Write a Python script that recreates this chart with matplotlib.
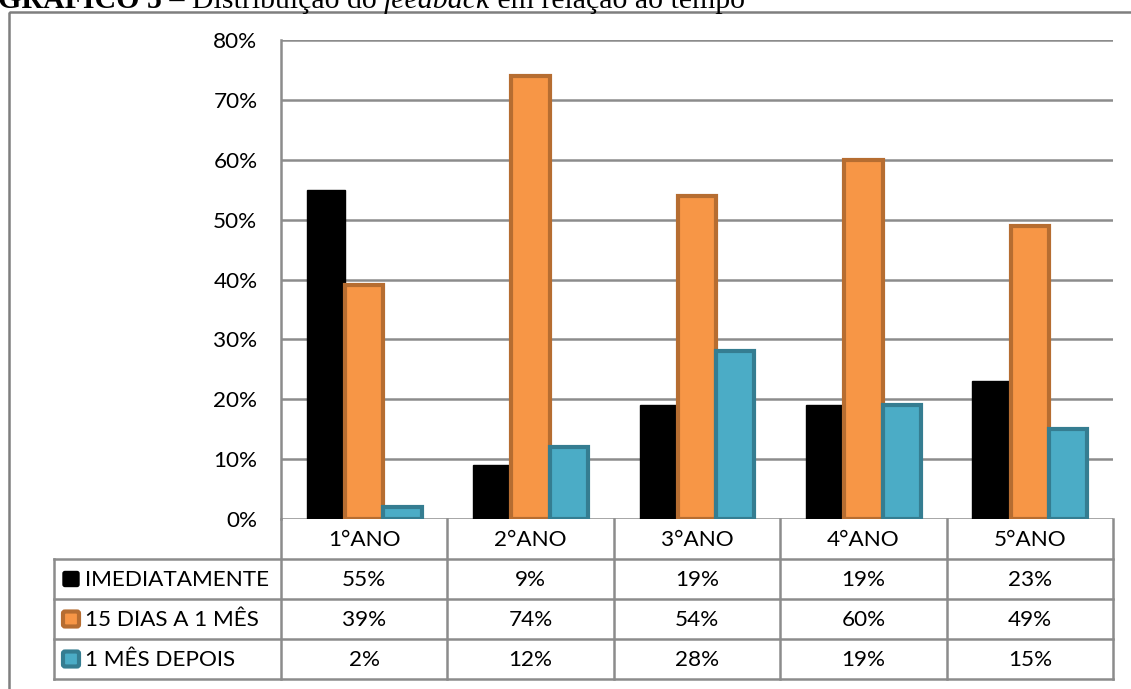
import matplotlib
matplotlib.use("Agg")
import matplotlib.pyplot as plt
from matplotlib.patches import Rectangle, FancyBboxPatch
import numpy as np

W, H = 1131, 689

categories = ["1°ANO", "2°ANO", "3°ANO", "4°ANO", "5°ANO"]
series_names = ["IMEDIATAMENTE", "15 DIAS A 1 MÊS", "1 MÊS DEPOIS"]
imediatamente = [55, 9, 19, 19, 23]
quinze_dias = [39, 74, 54, 60, 49]
um_mes = [2, 12, 28, 19, 15]
series_values = [imediatamente, quinze_dias, um_mes]

fills = ["#000000", "#F79646", "#4BACC6"]
edges = ["#000000", "#B66D31", "#357D91"]
grid_col = "#8C8C8C"
font = "Lato"
fs = 16.2

fig = plt.figure(figsize=(W / 100, H / 100), dpi=100)

# plot area in pixel coordinates
px_left, px_right, px_top, px_bottom = 281, 1113, 40, 519
ax = fig.add_axes([px_left / W, 1 - px_bottom / H,
                   (px_right - px_left) / W, (px_bottom - px_top) / H])

x = np.arange(len(categories))
bw = 0.23
for i, vals in enumerate(series_values):
    lw = 1 if i == 0 else 3
    ax.bar(x + (i - 1) * bw, np.array(vals) / 100, width=bw,
           color=fills[i], edgecolor=edges[i], linewidth=lw, zorder=3)

ax.set_xlim(-0.5, len(categories) - 0.5)
ax.set_ylim(0, 0.8)
yt = np.arange(0, 0.81, 0.1)
ax.set_yticks(yt)
ax.set_yticklabels([f"{int(round(v * 100))}%" for v in yt],
                   fontfamily=font, fontsize=fs)
ax.set_xticks([])
ax.yaxis.grid(True, color=grid_col, linewidth=1.8, zorder=0)
ax.set_axisbelow(True)
for side in ["top", "right", "bottom"]:
    ax.spines[side].set_visible(False)
ax.spines["left"].set_color(grid_col)
ax.spines["left"].set_linewidth(1.8)
ax.tick_params(axis="y", length=0, pad=17)

# outer frame behind everything, in pixels
ov = fig.add_axes([0, 0, 1, 1], zorder=-1)
ov.set_xlim(0, W)
ov.set_ylim(H, 0)
ov.axis("off")
ov.add_patch(Rectangle((9, 12), W + 20, H + 20, fill=False,
                       edgecolor="#7F7F7F", linewidth=1.8))

# data table under the plot
col_edges = np.linspace(px_left, px_right, len(categories) + 1)
row_edges = [519, 559, 599, 639, 679]
tbl_left = 54

tb = fig.add_axes([0, 0, 1, 1], zorder=5)
tb.set_xlim(0, W)
tb.set_ylim(H, 0)
tb.axis("off")
tb.patch.set_alpha(0)

for xe in col_edges:
    tb.plot([xe, xe], [row_edges[0], row_edges[-1]], color=grid_col, lw=1.8,
            solid_capstyle="projecting")
tb.plot([tbl_left, tbl_left], [row_edges[1], row_edges[-1]], color=grid_col, lw=1.8,
        solid_capstyle="projecting")
for ye in row_edges[1:]:
    tb.plot([tbl_left, px_right], [ye, ye], color=grid_col, lw=1.8,
            solid_capstyle="projecting")

centers = (col_edges[:-1] + col_edges[1:]) / 2
for c, lab in zip(centers, categories):
    tb.text(c, (row_edges[0] + row_edges[1]) / 2 + 1, lab, ha="center", va="center",
            fontfamily=font, fontsize=fs)

for r, (name, vals) in enumerate(zip(series_names, series_values)):
    yc = (row_edges[r + 1] + row_edges[r + 2]) / 2
    tb.add_patch(FancyBboxPatch((63, yc - 7.5), 16, 15,
                                boxstyle="round,pad=0,rounding_size=2",
                                facecolor=fills[r], edgecolor=edges[r],
                                linewidth=1 if r == 0 else 3))
    tb.text(85, yc + 1, name, ha="left", va="center", fontfamily=font, fontsize=fs)
    for c, v in zip(centers, vals):
        tb.text(c, yc + 1, f"{v}%", ha="center", va="center",
                fontfamily=font, fontsize=fs)

# caption above the frame, partly cut by the page edge
renderer = fig.canvas.get_renderer()
parts = [("GRÁFICO 5", "bold", "normal"), (" – Distribuição do ", "normal", "normal"),
         ("feedback", "normal", "italic"), (" em relação ao tempo", "normal", "normal")]
xp = -2
for s, wgt, sty in parts:
    t = fig.text(xp / W, 1 - 8 / H, s, fontfamily="Liberation Serif", fontsize=21.5,
                 weight=wgt, style=sty, va="baseline", ha="left")
    xp = t.get_window_extent(renderer).x1

fig.savefig("out.png", dpi=100)
